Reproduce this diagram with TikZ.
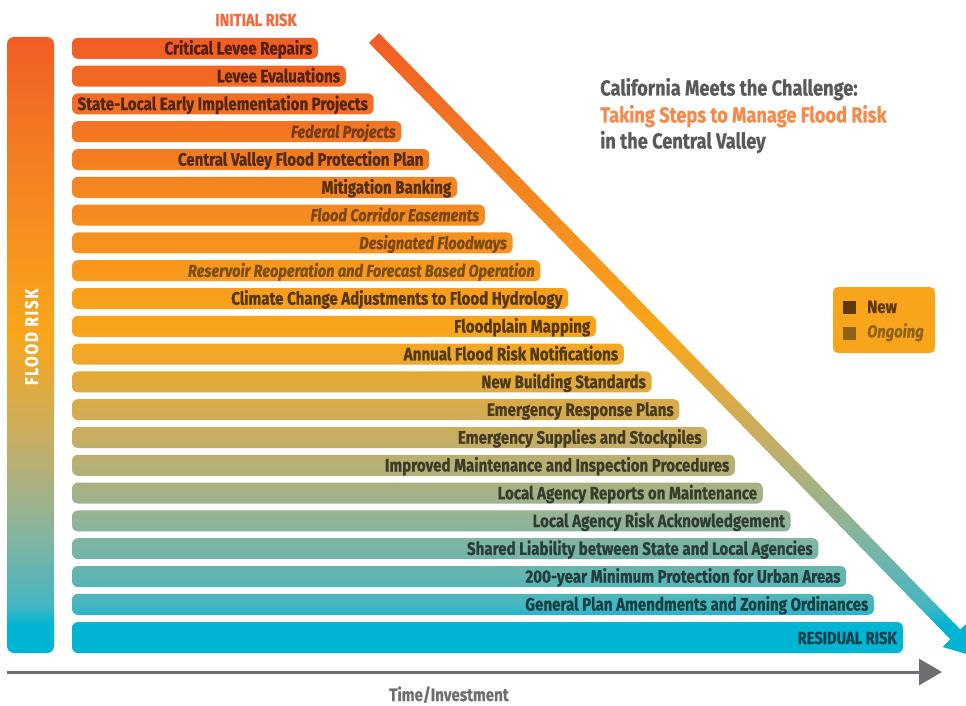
\documentclass[tikz,border=0pt]{standalone}
\usepackage{fontspec}
\setmainfont{Fira Sans}[FakeStretch=0.84,BoldFeatures={FakeBold=0.6},BoldItalicFeatures={FakeBold=0.6}]
\usetikzlibrary{arrows.meta}
\definecolor{s0}{HTML}{F15A24}
\definecolor{s1}{HTML}{F37C22}
\definecolor{s2}{HTML}{F8A01C}
\definecolor{s3}{HTML}{F9A61B}
\definecolor{s4}{HTML}{C6AE64}
\definecolor{s5}{HTML}{8EB49A}
\definecolor{s6}{HTML}{45B6C0}
\definecolor{s7}{HTML}{00B5D3}
\definecolor{r0}{HTML}{F15E24}
\definecolor{r1}{HTML}{F26624}
\definecolor{r2}{HTML}{F26F23}
\definecolor{r3}{HTML}{F37722}
\definecolor{r4}{HTML}{F47E21}
\definecolor{r5}{HTML}{F58620}
\definecolor{r6}{HTML}{F68D1F}
\definecolor{r7}{HTML}{F6931E}
\definecolor{r8}{HTML}{F79A1D}
\definecolor{r9}{HTML}{F8A01C}
\definecolor{r10}{HTML}{F9A51B}
\definecolor{r11}{HTML}{EFA731}
\definecolor{r12}{HTML}{E0A948}
\definecolor{r13}{HTML}{D3AB55}
\definecolor{r14}{HTML}{C5AD63}
\definecolor{r15}{HTML}{B4AF74}
\definecolor{r16}{HTML}{A3B184}
\definecolor{r17}{HTML}{91B393}
\definecolor{r18}{HTML}{7BB4A3}
\definecolor{r19}{HTML}{63B5B1}
\definecolor{r20}{HTML}{45B6C0}
\definecolor{r21}{HTML}{00B5D3}
\definecolor{titlegray}{HTML}{58595B}
\definecolor{titleorange}{HTML}{F58A4B}
\definecolor{initorange}{HTML}{F26C3B}
\definecolor{axisgray}{HTML}{6D6E71}
\definecolor{legendfill}{HTML}{F9A51B}
\definecolor{newsq}{HTML}{5C370A}
\definecolor{ongsq}{HTML}{8E6216}
\begin{document}
\begin{tikzpicture}[x=1pt,y=-1pt,
  newitem/.style={anchor=base east,inner sep=0pt,
    font=\fontsize{18}{18}\selectfont\bfseries,text=#1!34!black},
  ongoing/.style={anchor=base east,inner sep=0pt,
    font=\fontsize{17.4}{17.4}\selectfont\bfseries\itshape,text=#1!50!black},
  titletext/.style={anchor=base west,inner sep=0pt,
    font=\fontsize{21.7}{21.7}\selectfont\bfseries},
  axisline/.style={line width=3pt,draw=axisgray,-{Triangle[length=23pt,width=26pt]}},
]
\useasboundingbox (0,0) rectangle (966,706);

% gradient shapes: left bar, step bars, residual bar, diagonal arrow
\begin{scope}
\path[clip] [rounded corners=7pt] (7,37) rectangle (54,653)
  [rounded corners=6pt]
  \foreach \i in {0,...,20} {
    ({72},{48.3+27.8*\i-10.5}) rectangle ({318+27.8*\i},{48.3+27.8*\i+10.5})
  }
  (72,622) rectangle (903,653)
  [sharp corners]
  (379.0,33.1) -- (960.4,629.5) -- (968.3,621.8) -- (977.7,657.3)
  -- (942.5,647.0) -- (950.4,639.3) -- (369.0,42.9) -- cycle;
\foreach \ya/\ca/\yb/\cb in {28/s0/150/s1,150/s1/300/s2,300/s2/335/s3,
  335/s3/440/s4,440/s4/525/s5,525/s5/605/s6,605/s6/625/s7,625/s7/670/s7}
  \shade[top color=\ca,bottom color=\cb] (0,\ya) rectangle (990,\yb+0.5);
\end{scope}

% step labels
\foreach \lab/\sty [count=\i from 0] in {
  Critical Levee Repairs/newitem,
  Levee Evaluations/newitem,
  State-Local Early Implementation Projects/newitem,
  Federal Projects/ongoing,
  Central Valley Flood Protection Plan/newitem,
  Mitigation Banking/newitem,
  Flood Corridor Easements/ongoing,
  Designated Floodways/ongoing,
  Reservoir Reoperation and Forecast Based Operation/ongoing,
  Climate Change Adjustments to Flood Hydrology/newitem,
  Floodplain Mapping/newitem,
  Annual Flood Risk Notifications/newitem,
  New Building Standards/newitem,
  Emergency Response Plans/newitem,
  Emergency Supplies and Stockpiles/newitem,
  Improved Maintenance and Inspection Procedures/newitem,
  Local Agency Reports on Maintenance/newitem,
  Local Agency Risk Acknowledgement/newitem,
  Shared Liability between State and Local Agencies/newitem,
  200-year Minimum Protection for Urban Areas/newitem,
  General Plan Amendments and Zoning Ordinances/newitem}
{
  \node[\sty=r\i] (item\i) at ({318+27.8*\i-5.5},{48.3+27.8*\i+6.2}) {\lab};
}
\node[newitem=r21,font=\fontsize{17.5}{17.5}\selectfont\bfseries,text=r21!36!black]
  (residual) at (897,644) {RESIDUAL RISK};

% heading labels
\node[anchor=base,inner sep=0pt,text=initorange,
  font=\fontsize{17.5}{17.5}\selectfont\bfseries] (initial) at (256,26) {INITIAL RISK};
\node[anchor=base,inner sep=0pt,text=white,rotate=90,
  font=\fontsize{18.5}{18.5}\selectfont\bfseries\addfontfeature{LetterSpace=9}]
  (floodrisk) at (38,337) {FLOOD RISK};

% title
\node[titletext,text=titlegray] (title1) at (600,95.5) {California Meets the Challenge:};
\node[titletext,text=titleorange] (title2) at (600,122.5) {Taking Steps to Manage Flood Risk};
\node[titletext,text=titlegray] (title3) at (600,148.5) {in the Central Valley};

% legend
\fill[legendfill,rounded corners=5pt] (833,287) rectangle (935,353);
\fill[newsq] (843,301) rectangle (856,314);
\fill[ongsq] (843,327) rectangle (856,340);
\node[anchor=base west,inner sep=0pt,text=newsq,
  font=\fontsize{18}{18}\selectfont\bfseries] (lnew) at (867,313) {New};
\node[anchor=base west,inner sep=0pt,text=ongsq,
  font=\fontsize{17.6}{17.6}\selectfont\bfseries\itshape] (long) at (867,337.5) {Ongoing};

% time axis
\coordinate (ax0) at (7,672);
\coordinate (ax1) at (942,672);
\draw[axisline] (ax0) -- (ax1);
\node[anchor=base,inner sep=0pt,text=axisgray,
  font=\fontsize{18}{18}\selectfont\bfseries] (timeinv) at (449,701) {Time/Investment};
\end{tikzpicture}
\end{document}
